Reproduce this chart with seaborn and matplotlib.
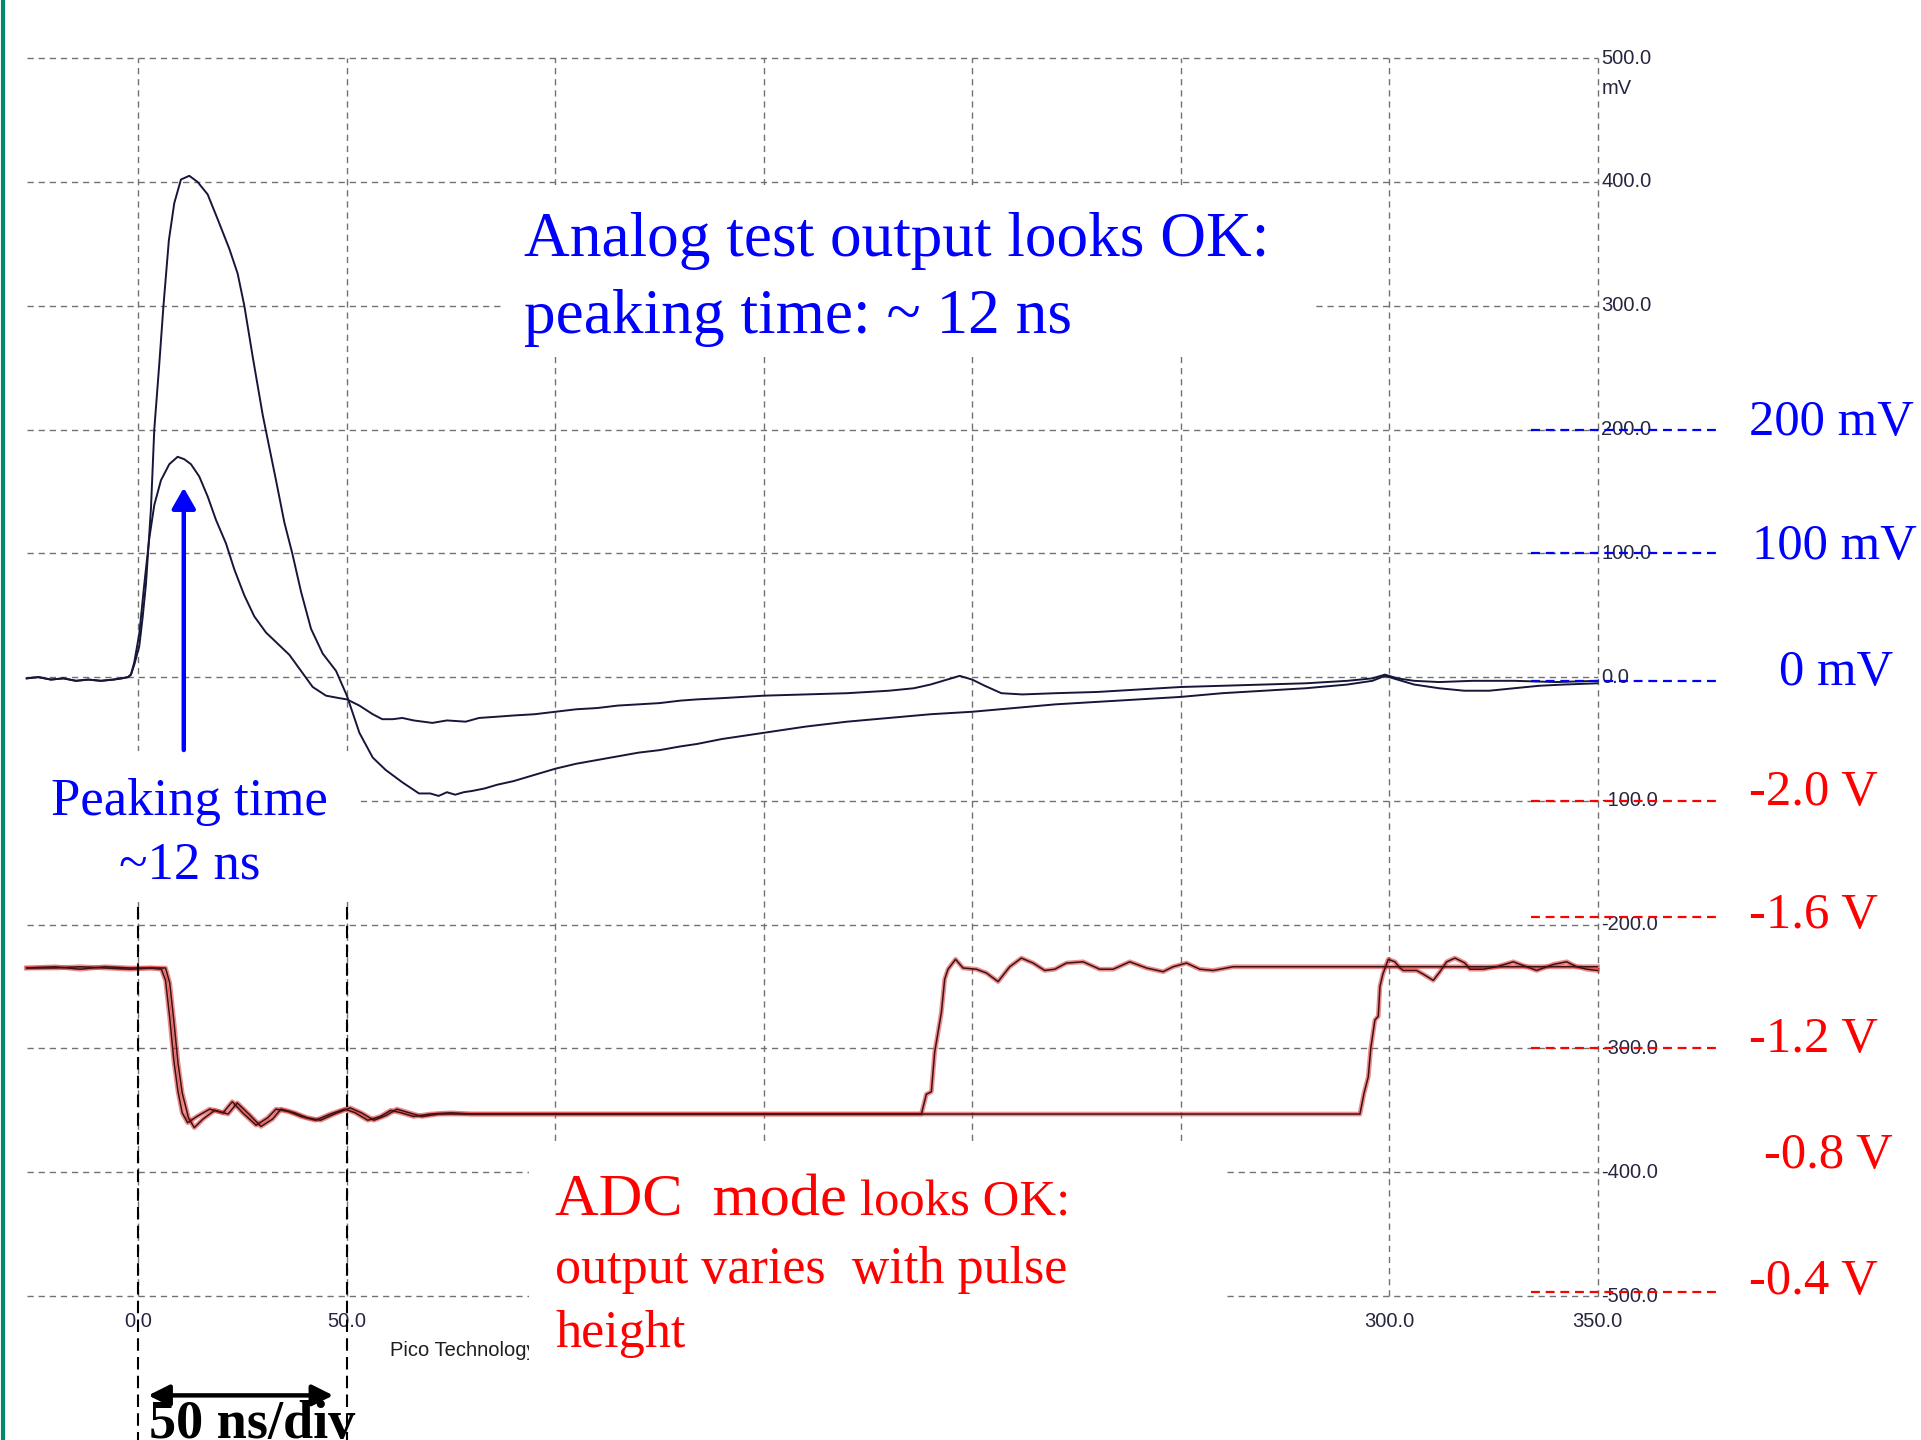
import matplotlib
matplotlib.use("Agg")
import matplotlib.pyplot as plt
import seaborn as sns
from matplotlib.patches import Rectangle
from matplotlib.lines import Line2D

# ---------------- data ----------------
x_ticks = [0, 50, 100, 150, 200, 250, 300, 350]                 # ns
x_tick_labels = ["0.0", "50.0", "100.0", "150.0", "200.0", "250.0", "300.0", "350.0"]
x_label_visible = [True, True, False, False, False, False, True, True]   # others hidden by the note box
y_ticks = [500, 400, 300, 200, 100, 0, -100, -200, -300, -400, -500]   # mV
y_tick_labels = ["500.0", "400.0", "300.0", "200.0", "100.0", "0.0",
                 "-100.0", "-200.0", "-300.0", "-400.0", "-500.0"]

# analog test output, large pulse (time ns, amplitude mV)
large_pulse = [(-26.8, -1), (-24, 0), (-21, -2), (-18, -1), (-15, -3), (-12, -2), (-9, -3), (-6, -2),
               (-4, -1), (-2.5, 0), (-1.8, 2), (-1, 10), (0.2, 25), (1, 48), (1.8, 75), (3.0, 136),
               (3.8, 200), (5.0, 253), (6.0, 300), (7.3, 353), (8.6, 383), (10.2, 402), (12.2, 405),
               (14.2, 400), (16.6, 390), (19.0, 370), (21.8, 346), (23.8, 326), (25.4, 300), (27.4, 259),
               (29.8, 212), (31.0, 192), (33.0, 159), (35.0, 125), (36.9, 100), (39.0, 69), (41.4, 39),
               (44.2, 19), (47.4, 5), (50, -15), (53, -45), (56.2, -65), (59.3, -75), (63.3, -85),
               (67.3, -94), (70, -94), (72, -96), (74, -93), (76, -95), (78, -93), (80, -92), (83, -90),
               (86, -87), (90, -84), (95, -79), (100, -74), (105, -70), (110, -67), (115, -64),
               (120, -61), (125, -59), (130, -56), (134, -54), (140, -50), (150, -45), (160, -40),
               (170, -36), (180, -33), (190, -30), (200, -28), (210, -25), (220, -22), (230, -20),
               (240, -18), (250, -16), (260, -13), (270, -11), (280, -9), (290, -6), (296, -3),
               (299, 1), (302, -2), (306, -6), (312, -9), (318, -11), (324, -11), (330, -9),
               (336, -7), (342, -6), (350, -5)]

# analog test output, small pulse
small_pulse = [(-26.8, -1), (-24, 0), (-21, -2), (-18, -1), (-15, -3), (-12, -2), (-9, -3), (-6, -2),
               (-4, -1), (-2.5, 0), (-1.8, 2), (-1, 12), (0.2, 35), (1.4, 75), (2.6, 112), (3.8, 139),
               (5.4, 159), (7.4, 172), (9.4, 178), (11, 176), (12.6, 172), (14.6, 162), (16.6, 146),
               (18.6, 127), (21, 108), (23, 87), (25.4, 66), (27.8, 49), (30.6, 36), (33.4, 27),
               (36.2, 18), (39, 5), (41.8, -8), (45, -15), (48.2, -17), (50, -18), (53, -23),
               (56.2, -30), (58.5, -34), (61, -34), (63.3, -33), (66, -35), (70.5, -37), (74, -35),
               (78.5, -36), (81.7, -33), (86, -32), (90, -31), (95, -30), (100, -28), (105, -26),
               (110, -25), (115, -23), (120, -22), (125, -21), (130, -19), (134, -18), (140, -17),
               (150, -15), (160, -14), (170, -13), (180, -11), (186, -9), (190, -6), (194, -2),
               (197, 1), (200, -2), (203, -7), (207, -13), (212, -14), (220, -13), (230, -12),
               (240, -10), (250, -8), (260, -7), (270, -6), (280, -5), (290, -3), (296, -1),
               (299, 2), (302, -1), (306, -3), (312, -4), (320, -3), (330, -3), (340, -4), (350, -3)]

# ADC mode output, short conversion
adc_short = [(-26.8, -235), (-20, -234), (-14, -236), (-8, -234), (-2, -235), (3, -235), (5.5, -236),
             (6.5, -245), (7.5, -275), (8.5, -310), (9.5, -335), (10.5, -352), (11.8, -360), (14, -355),
             (17.1, -349), (20.3, -352), (22.5, -343), (25, -352), (28.2, -362), (31, -356), (33, -349),
             (36, -351), (39, -355), (42.5, -358), (46, -353), (49.5, -349), (52, -352), (55, -358),
             (58, -355), (60.5, -350), (63, -352), (66, -355), (70, -353), (75, -352), (80, -353),
             (100, -353), (130, -353), (160, -353), (187.8, -353), (189, -337), (190.2, -335),
             (191, -303), (191.8, -287), (192.6, -271), (193.4, -244), (194.2, -236), (196, -228),
             (197.8, -235), (201, -236), (203.4, -239), (206.2, -246), (209, -234), (211.8, -227),
             (214.6, -231), (217.4, -237), (219.8, -236), (222.6, -231), (226.6, -230), (230.6, -236),
             (233.8, -236), (237.8, -230), (241.8, -235), (245.8, -238), (248.2, -234), (251.4, -231),
             (254.6, -236), (257.8, -237), (262.6, -234), (300, -234), (350, -234)]

# ADC mode output, long conversion
adc_long = [(-26.8, -235), (-20, -235), (-14, -234), (-8, -235), (-2, -236), (3, -235), (6.5, -235),
            (7.5, -247), (8.5, -278), (9.5, -312), (10.5, -336), (12, -356), (13.4, -364), (15.5, -357),
            (18.3, -350), (21.5, -353), (23.7, -344), (26.5, -353), (29.4, -363), (32.2, -357),
            (34.2, -349), (37.5, -352), (40.5, -356), (43.7, -358), (47, -353), (50.8, -348),
            (53.5, -352), (56.5, -358), (59.5, -354), (62, -349), (65, -352), (68, -355), (72, -353),
            (78, -353), (100, -353), (150, -353), (200, -353), (250, -353), (293, -353), (294, -336),
            (295, -323), (295.6, -300), (296.6, -277), (297.4, -274), (297.8, -250), (298.5, -240),
            (299.8, -228), (301.4, -230), (302.6, -235), (303.4, -237), (306.6, -237), (308.2, -240),
            (310.6, -245), (312.2, -238), (313.8, -230), (315.8, -227), (318.2, -231), (319.4, -236),
            (322.6, -236), (325.8, -234), (329.8, -230), (333, -234), (335.4, -237), (339.5, -232),
            (342.6, -230), (345, -234), (347.4, -236), (350, -237)]

t_large, v_large = map(list, zip(*large_pulse))
t_small, v_small = map(list, zip(*small_pulse))
t_adc_a, v_adc_a = map(list, zip(*adc_short))
t_adc_b, v_adc_b = map(list, zip(*adc_long))

analog_scale_labels = ["200 mV", "100 mV", "0 mV"]
adc_scale_labels = ["-2.0 V", "-1.6 V", "-1.2 V", "-0.8 V", "-0.4 V"]

# ---------------- layout helpers (reference pixel grid 1568 x 1175) ----------------
REF_W, REF_H = 1568.0, 1175.0
NS_PER_PX = 50.0 / 170.14
MV_PER_PX = 1.0 / 1.01
X0 = -113.0 * NS_PER_PX
X1 = X0 + REF_W * NS_PER_PX
Y1 = 552.5 * MV_PER_PX
Y0 = Y1 - REF_H * MV_PER_PX


def fx(px):
    return px / REF_W


def fy(py):
    return 1.0 - py / REF_H


def dx(px):
    return X0 + px * NS_PER_PX


def dy(py):
    return Y1 - py * MV_PER_PX


plt.rcParams['font.family'] = ['Liberation Serif', 'DejaVu Sans']

fig = plt.figure(figsize=(19.21, 14.40), dpi=100)
fig.patch.set_facecolor("white")
ax = fig.add_axes([0, 0, 1, 1])
ax.set_xlim(X0, X1)
ax.set_ylim(Y0, Y1)
ax.axis("off")

# oscilloscope grid
grid_kw = dict(colors="#727272", linewidth=1.0, linestyles=[(0, (4.5, 3.5))], zorder=1)
ax.vlines(x_ticks, -500, 500, **grid_kw)
ax.hlines(y_ticks, dx(22), 350, **grid_kw)

# white annotation boxes that mask the grid
for (x_a, x_b, y_a, y_b) in [(410, 1071, 151, 291), (20, 291, 613, 736), (432, 998, 932, 1118)]:
    ax.add_patch(Rectangle((fx(x_a), fy(y_b)), fx(x_b) - fx(x_a), fy(y_a) - fy(y_b),
                           transform=ax.transAxes, facecolor="white", edgecolor="none", zorder=2))

# tick labels (Pico scope style)
tick_font = dict(family="Liberation Sans", fontsize=14.5, color="#262640")
for v, lab in zip(y_ticks, y_tick_labels):
    ax.text(dx(1307), v, lab, ha="left", va="center", zorder=1.5, **tick_font)
ax.text(dx(1307), dy(72), "mV", ha="left", va="center", zorder=1.5, **tick_font)
for t, lab, vis in zip(x_ticks, x_tick_labels, x_label_visible):
    if vis:
        ax.text(t, dy(1078), lab, ha="center", va="center", zorder=1.5, **tick_font)
ax.text(dx(318), dy(1102), "Pico Technology", ha="left", va="center", zorder=1.5,
        family="Liberation Sans", fontsize=14.5, color="#1e1e1e")

# traces
trace_kw = dict(ax=ax, sort=False, estimator=None, legend=False)
for tt, vv in [(t_adc_a, v_adc_a), (t_adc_b, v_adc_b)]:
    sns.lineplot(x=tt, y=vv, color="#e03030", linewidth=3.4, alpha=0.55, zorder=3, **trace_kw)
for tt, vv in [(t_adc_a, v_adc_a), (t_adc_b, v_adc_b)]:
    sns.lineplot(x=tt, y=vv, color="#3d1212", linewidth=1.1, zorder=4, **trace_kw)
for tt, vv in [(t_large, v_large), (t_small, v_small)]:
    sns.lineplot(x=tt, y=vv, color="#16163a", linewidth=1.4, zorder=4, **trace_kw)

# black dashed time markers and the 50 ns/div arrow
for t in x_ticks[:2]:
    ax.plot([t, t], [dy(740), dy(1180)], color="black", lw=1.5, ls=(0, (6, 3)), zorder=5,
            clip_on=False)
ax.annotate("", xy=(fx(272), fy(1138.6)), xytext=(fx(121), fy(1138.6)),
            xycoords="axes fraction", textcoords="axes fraction",
            arrowprops=dict(arrowstyle="<|-|>,head_length=0.7,head_width=0.35", lw=3.2,
                            color="black", mutation_scale=18, shrinkA=0, shrinkB=0), zorder=6)
ax.text(fx(122), fy(1173), "50 ns/div", transform=ax.transAxes, ha="left", va="baseline",
        fontsize=39, fontweight="bold", color="black", zorder=6)

# peaking-time arrow
ax.annotate("", xy=(fx(150), fy(398)), xytext=(fx(150), fy(612)),
            xycoords="axes fraction", textcoords="axes fraction",
            arrowprops=dict(arrowstyle="-|>,head_length=0.7,head_width=0.4", lw=3.2,
                            color="#0000ff", mutation_scale=18, shrinkA=0, shrinkB=0), zorder=6)

# annotation texts
blue, red = "#0000ff", "#ff0000"
ax.text(fx(428), fy(209), "Analog test output looks OK:", transform=ax.transAxes,
        fontsize=45.5, color=blue, ha="left", va="baseline", zorder=6)
ax.text(fx(428), fy(271.5), "peaking time: ~ 12 ns", transform=ax.transAxes,
        fontsize=45.5, color=blue, ha="left", va="baseline", zorder=6)
ax.text(fx(155), fy(665), "Peaking time", transform=ax.transAxes,
        fontsize=38, color=blue, ha="center", va="baseline", zorder=6)
ax.text(fx(155), fy(717), "~12 ns", transform=ax.transAxes,
        fontsize=38, color=blue, ha="center", va="baseline", zorder=6)
ax.text(fx(453), fy(992), "ADC  mode", transform=ax.transAxes,
        fontsize=43.5, color=red, ha="left", va="baseline", zorder=6)
ax.text(fx(702), fy(992), "looks OK:", transform=ax.transAxes,
        fontsize=36.5, color=red, ha="left", va="baseline", zorder=6)
ax.text(fx(453), fy(1047), "output varies  with pulse", transform=ax.transAxes,
        fontsize=37.5, color=red, ha="left", va="baseline", zorder=6)
ax.text(fx(453), fy(1099), "height", transform=ax.transAxes,
        fontsize=37.5, color=red, ha="left", va="baseline", zorder=6)

# right-hand scale markers
marker_levels_blue = [200, 100, -3]
marker_levels_red = [-100, -194, -300, -497]
for lv in marker_levels_blue:
    ax.plot([dx(1250), dx(1405)], [lv, lv], color=blue, lw=1.6, ls=(0, (4, 2.6)), zorder=5)
for lv in marker_levels_red:
    ax.plot([dx(1250), dx(1405)], [lv, lv], color=red, lw=1.6, ls=(0, (4, 2.6)), zorder=5)

label_pos_blue = [(1428, 355), (1430, 456), (1452, 559)]
label_pos_red = [(1428, 657), (1428, 757), (1428, 858), (1440, 953), (1428, 1056)]
for lab, (px, py) in zip(analog_scale_labels, label_pos_blue):
    ax.text(fx(px), fy(py), lab, transform=ax.transAxes, fontsize=36.5, color=blue,
            ha="left", va="baseline", zorder=6)
for lab, (px, py) in zip(adc_scale_labels, label_pos_red):
    ax.text(fx(px), fy(py), lab, transform=ax.transAxes, fontsize=36.5, color=red,
            ha="left", va="baseline", zorder=6)

# slide border on the left
fig.add_artist(Line2D([2.5 / 1921, 2.5 / 1921], [0, 1], lw=3, color="#00896f"))

fig.savefig("out.png", dpi=100)
